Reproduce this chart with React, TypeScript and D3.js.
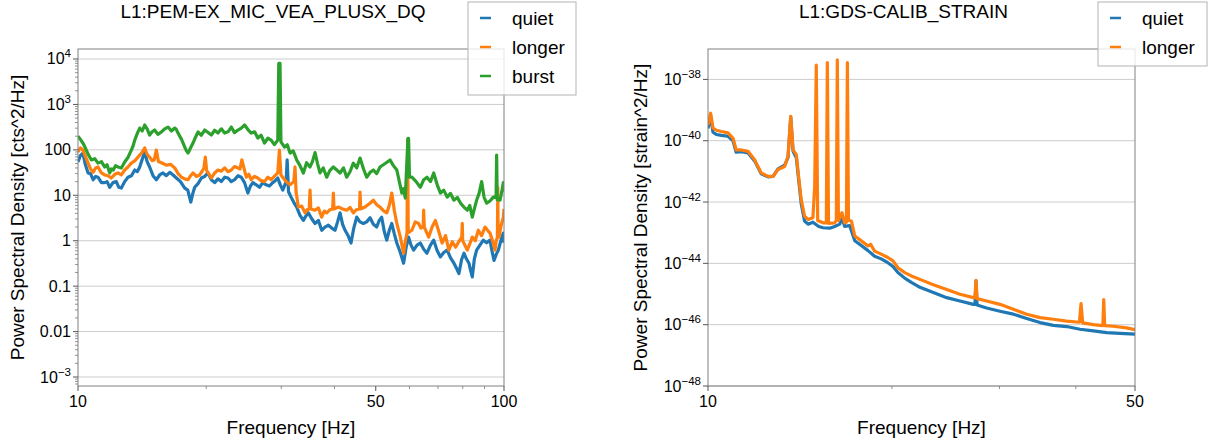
import React from 'react';
import * as d3 from 'd3';

type Pt = [number, number];

// L1:PEM-EX_MIC_VEA_PLUSX_DQ  [freq Hz, PSD cts^2/Hz]
const pemQuiet: Pt[] = [
  [10, 54], [10.27, 85], [10.56, 31], [10.85, 22], [11.14, 25], [11.55, 19], [11.87, 15], [12.3, 20],
  [12.64, 14.4], [13.1, 25], [13.59, 36], [13.96, 42], [14.34, 90], [14.73, 42], [15.27, 22], [15.83, 31],
  [16.42, 32], [17.02, 24], [17.81, 14.4], [18.4, 7.1], [18.79, 15], [19.48, 24], [20.19, 31], [20.93, 19],
  [21.7, 20], [22.49, 24], [23.31, 22], [24.17, 25], [25.05, 11.2], [25.74, 19], [26.67, 15], [27.64, 17],
  [28.65, 19], [29.44, 24], [30.25, 13], [30.8, 20], [30.97, 60], [31.2, 12], [31.66, 9], [32.61, 5.5],
  [33.81, 2.8], [34.73, 4.1], [36.01, 2.4], [37.33, 1.7], [38.7, 2.2], [40.12, 1.7], [41.22, 4.1],
  [42.35, 1.7], [43.74, 0.89], [45.11, 3.3], [46.76, 2.4], [48.48, 3.2], [50.25, 2.0], [51.63, 3.3],
  [53.06, 1.03], [54.52, 2.4], [56.03, 0.89], [58.11, 0.32], [59.7, 1.2], [61.34, 0.62], [63.61, 0.89],
  [65.95, 0.53], [68.39, 1.03], [70.93, 0.44], [73.56, 0.62], [76.29, 0.32], [78.38, 0.19], [80.54, 0.53],
  [82.75, 0.32], [84.25, 0.16], [86.25, 0.62], [89.43, 1.03], [92.71, 1.03], [94.74, 0.37], [96.99, 0.62],
  [99.65, 1.47], [100, 0.9],
];
const pemQuietFill: Pt[] = [
  [10.13, 75], [10.4, 48], [10.7, 30], [11.0, 26], [11.35, 19], [11.7, 20], [12.08, 19], [12.47, 15],
  [12.87, 20], [13.35, 27], [13.78, 33], [14.15, 62], [14.53, 55], [15.0, 27], [15.55, 28], [16.12, 27],
  [16.72, 28], [17.4, 20], [18.1, 13], [18.6, 11], [19.13, 18], [19.83, 26], [20.56, 22], [21.3, 23],
  [22.1, 25], [22.9, 20], [23.74, 27], [24.6, 19], [25.4, 16], [26.2, 17], [27.15, 19], [28.15, 16],
  [29.05, 21], [29.85, 17], [32.1, 7], [33.2, 3.6], [34.27, 3.5], [35.4, 3.0], [36.67, 2.8], [38.0, 2.0],
  [39.4, 1.9], [40.67, 2.6], [41.8, 2.3], [43.05, 1.3], [44.4, 1.9], [45.9, 2.6], [47.6, 2.6], [49.35, 2.3],
  [50.95, 2.8], [52.35, 1.6], [53.8, 1.7], [55.3, 1.4], [57.1, 0.55], [58.9, 0.7], [60.5, 0.8], [62.5, 0.8],
  [64.8, 0.65], [67.2, 0.8], [69.7, 0.6], [72.2, 0.55], [74.9, 0.42], [77.3, 0.25], [79.5, 0.38],
  [81.6, 0.4], [83.5, 0.22], [85.2, 0.4], [87.8, 0.8], [91.0, 0.9], [93.7, 0.6], [95.9, 0.5], [98.3, 1.0],
];

const pemLonger: Pt[] = [
  [10, 90], [10.27, 99], [10.56, 51], [10.85, 32], [11.14, 42], [11.55, 28], [11.97, 24], [12.41, 31],
  [12.87, 36], [13.34, 51], [13.83, 69], [14.34, 110], [14.73, 69], [15.1, 60], [15.27, 99], [15.45, 55],
  [15.55, 54], [16.12, 46], [16.87, 40], [17.49, 25], [18.13, 22], [18.62, 31], [19.3, 28], [19.75, 40],
  [19.9, 69], [20.05, 35], [20.56, 24], [21.31, 36], [22.09, 40], [22.9, 36], [23.74, 40], [24.25, 60],
  [24.83, 25], [25.51, 22], [26.43, 24], [27.4, 20], [28.4, 22], [29.44, 31], [29.7, 99], [29.95, 28],
  [30.54, 22], [31.46, 17], [32.1, 20], [32.32, 42], [32.5, 12], [32.91, 5.5], [34.12, 4.1], [34.9, 5],
  [35.05, 13], [35.2, 5], [36.01, 4.7], [37.33, 3.3], [38.35, 4.1], [39.6, 5], [39.76, 11.2], [39.9, 5],
  [40.85, 5.5], [42.73, 4.7], [44.3, 4.1], [45.8, 5], [45.93, 11.8], [46.1, 5], [47.18, 5.5], [49.36, 7.8],
  [51.17, 5.5], [53.06, 4.1], [54.52, 11.2], [56.03, 2.4], [58.11, 0.53], [59.2, 1.5], [59.4, 170],
  [59.6, 1.5], [60.79, 1.7], [63.04, 2.4], [64.6, 2], [64.77, 4.7], [65, 2], [66.55, 1.2], [69.01, 2.8],
  [71.57, 0.89], [74.23, 0.62], [76.98, 0.72], [79.6, 1.2], [79.81, 2.4], [80, 1.0], [82, 0.62],
  [84.25, 1.2], [87.04, 1.7], [90.24, 2.0], [92.71, 1.47], [95.25, 0.62], [96.5, 1.2], [96.7, 15],
  [96.9, 1.2], [97.3, 1.2], [99.65, 3.3], [100, 5],
];
const pemLongerFill: Pt[] = [
  [10.13, 110], [10.42, 70], [10.7, 38], [11.0, 40], [11.35, 31], [11.76, 27], [12.2, 29], [12.64, 28],
  [13.1, 42], [13.58, 57], [14.1, 85], [14.53, 80], [14.92, 58], [15.83, 50], [16.5, 48], [17.18, 30],
  [17.8, 23], [18.38, 27], [18.96, 26], [19.53, 33], [20.93, 31], [21.7, 34], [22.5, 33], [23.3, 43],
  [24.0, 38], [25.17, 29], [25.97, 26], [26.9, 21], [27.9, 25], [28.9, 26], [31.0, 19], [33.5, 5.8],
  [34.5, 4.8], [36.66, 5.3], [37.85, 4.5], [39.0, 4.8], [41.8, 5.0], [43.5, 5.4], [45.0, 4.8], [48.3, 6.5],
  [50.25, 6.2], [52.1, 4.6], [53.8, 6], [55.3, 4.5], [57.1, 1.2], [58.7, 1.0], [61.9, 2.6], [63.8, 1.9],
  [67.8, 2.0], [70.3, 1.6], [72.9, 1.3], [75.6, 0.95], [78.3, 0.95], [83.1, 0.85], [85.6, 1.0], [88.6, 1.3],
  [91.5, 1.7], [94.0, 1.0], [95.9, 1.0], [98.5, 2.2],
];

const pemBurst: Pt[] = [
  [10, 200], [10.27, 141], [10.46, 99], [10.75, 60], [11.14, 51], [11.55, 42], [11.87, 31], [12.1, 36],
  [12.41, 42], [12.87, 54], [13.34, 99], [13.59, 164], [13.96, 302], [14.34, 352], [14.73, 212],
  [15.13, 273], [15.69, 247], [16.27, 318], [16.87, 302], [17.17, 234], [17.81, 115], [18.13, 85],
  [18.62, 141], [19.13, 247], [19.83, 273], [20.56, 212], [21.31, 234], [22.09, 234], [22.9, 318],
  [23.74, 273], [24.61, 352], [25.51, 234], [26.43, 182], [27.4, 141], [28.4, 164], [29.44, 164],
  [29.6, 8000], [29.8, 8000], [29.95, 150], [30.54, 115], [31.46, 85], [32.61, 60], [33.81, 31],
  [35.05, 42], [36.01, 87], [36.99, 31], [38.35, 25], [39.76, 42], [41.22, 31], [42.73, 25], [44.3, 51],
  [45.93, 66], [47.61, 25], [49.36, 36], [51.17, 42], [54.03, 60], [56.03, 36], [57.58, 11.2],
  [58.64, 8.7], [59.5, 180], [59.7, 180], [60, 25], [60.79, 25], [63.61, 15], [65.95, 25], [68.39, 31],
  [70.93, 11.2], [73.56, 9.1], [76.29, 7.8], [79.09, 6.7], [82, 4.7], [84.25, 3.3], [86.25, 7.8],
  [88.62, 20], [91.05, 6.7], [94.4, 9.1], [95.8, 9], [96.1, 77], [96.4, 8], [97.87, 7.8], [99.65, 19],
  [100, 12],
];
const pemBurstFill: Pt[] = [
  [10.13, 170], [10.36, 120], [10.6, 75], [10.95, 64], [11.35, 55], [11.7, 47], [11.98, 38], [12.25, 45],
  [12.64, 40], [13.1, 68], [13.46, 120], [13.78, 230], [14.15, 260], [14.53, 290], [14.93, 250],
  [15.4, 220], [15.98, 290], [16.57, 260], [17.02, 280], [17.5, 170], [17.97, 95], [18.37, 110],
  [18.87, 190], [19.48, 210], [20.2, 240], [20.93, 270], [21.7, 290], [22.5, 250], [23.3, 240],
  [24.17, 300], [25.05, 280], [25.97, 250], [26.9, 210], [27.9, 180], [28.9, 130], [31.0, 130],
  [32.0, 95], [33.2, 45], [34.4, 52], [35.5, 55], [36.5, 50], [37.65, 40], [39.0, 35], [40.5, 36],
  [42.0, 40], [43.5, 33], [45.1, 40], [46.8, 38], [48.5, 32], [50.25, 30], [52.6, 50], [55.0, 45],
  [56.8, 20], [58.1, 14], [62.2, 20], [64.8, 22], [67.2, 20], [69.7, 17], [72.2, 13], [74.9, 11],
  [77.7, 9], [80.5, 5.5], [83.1, 6], [85.2, 5], [87.4, 11], [89.8, 9], [92.7, 7.5], [98.8, 12],
];

// L1:GDS-CALIB_STRAIN  [freq Hz, PSD strain^2/Hz]
const strainQuiet: Pt[] = [
  [10, 2.5e-40], [10.1, 6.3e-40], [10.19, 1.9e-40], [10.32, 1.6e-40], [10.52, 1.5e-40], [10.78, 1.4e-40],
  [10.99, 1.0e-40], [11.12, 4.2e-41], [11.34, 4.4e-41], [11.63, 4.0e-41], [11.92, 2.2e-41],
  [12.22, 8.3e-42], [12.54, 6.6e-42], [12.78, 6.9e-42], [13.02, 1.2e-41], [13.35, 1.6e-41],
  [13.52, 2.8e-41], [13.66, 5.9e-40], [13.78, 4.5e-41], [13.95, 2.8e-41], [14.07, 5.6e-42],
  [14.21, 8.9e-43], [14.39, 2.4e-43], [14.58, 1.9e-43], [14.85, 2.2e-43], [15.18, 1.6e-43],
  [15.43, 1.45e-43], [15.82, 1.4e-43], [16.12, 1.6e-43], [16.43, 1.9e-43], [16.57, 3.0e-43],
  [16.74, 1.6e-43], [17.06, 1.7e-43], [17.39, 5.5e-44], [17.82, 3.8e-44], [18.28, 2.6e-44],
  [18.74, 1.7e-44], [19.21, 1.4e-44], [19.7, 1.05e-44], [20.08, 7.9e-45], [20.46, 5.0e-45],
  [20.99, 3.3e-45], [21.52, 2.4e-45], [22.23, 1.66e-45], [23.38, 1.12e-45], [24.59, 7.6e-46],
  [25.85, 5.9e-46], [27.19, 4.6e-46], [27.35, 4.6e-46], [27.46, 2.7e-45], [27.57, 4.4e-46],
  [28.58, 3.5e-46], [30.06, 2.75e-46], [31.61, 2.2e-46], [33.24, 1.6e-46], [34.95, 1.17e-46],
  [36.75, 9.5e-47], [38.65, 8.7e-47], [40.64, 7.1e-47], [42.73, 6.3e-47], [44.94, 5.5e-47],
  [47.25, 5.2e-47], [50, 4.9e-47],
];

const strainLonger: Pt[] = [
  [10, 3.3e-40], [10.1, 7.9e-40], [10.19, 2.6e-40], [10.32, 2.2e-40], [10.52, 2.0e-40], [10.78, 1.8e-40],
  [10.99, 1.2e-40], [11.12, 5.0e-41], [11.34, 5.0e-41], [11.63, 4.5e-41], [11.92, 2.4e-41],
  [12.22, 8.9e-42], [12.54, 6.9e-42], [12.78, 6.9e-42], [13.02, 1.15e-41], [13.35, 1.45e-41],
  [13.52, 3.1e-41], [13.66, 6.2e-40], [13.78, 5.0e-41], [13.95, 3.5e-41], [14.07, 6.9e-42],
  [14.21, 1.2e-42], [14.39, 3.5e-43], [14.58, 2.7e-43], [14.85, 3.1e-43], [14.95, 3.2e-42],
  [15.04, 2.9e-38], [15.12, 2.5e-43], [15.43, 2.1e-43], [15.62, 2.1e-43], [15.68, 3.5e-38],
  [15.75, 2.0e-43], [16.12, 2.1e-43], [16.22, 2.5e-43], [16.28, 4.3e-38], [16.35, 2.5e-43],
  [16.57, 4.5e-43], [16.74, 2.1e-43], [16.85, 2.2e-43], [16.91, 3.5e-38], [16.98, 2.5e-43],
  [17.17, 2.4e-43], [17.39, 7.8e-44], [17.82, 5.4e-44], [18.28, 3.7e-44], [18.46, 4.2e-44],
  [18.74, 2.5e-44], [19.21, 2.0e-44], [19.7, 1.55e-44], [20.08, 1.2e-44], [20.46, 7.2e-45],
  [20.99, 5.0e-45], [21.52, 3.9e-45], [22.23, 3.0e-45], [23.38, 2.0e-45], [24.59, 1.4e-45],
  [25.85, 9.8e-46], [27.19, 7.6e-46], [27.35, 7.6e-46], [27.46, 2.8e-45], [27.57, 7.1e-46],
  [28.58, 5.9e-46], [30.06, 4.6e-46], [31.61, 3.2e-46], [33.24, 2.2e-46], [34.95, 1.7e-46],
  [36.75, 1.5e-46], [38.65, 1.3e-46], [40.55, 1.2e-46], [40.8, 4.9e-46], [41.05, 1.15e-46],
  [42.73, 1.0e-46], [44.3, 9.3e-47], [44.44, 6.6e-46], [44.6, 9.3e-47], [46.08, 8.9e-47],
  [48.46, 7.9e-47], [50, 6.9e-47],
];

const pemYTicks = [1e4, 1e3, 100, 10, 1, 0.1, 0.01, 1e-3];
const pemYLabels = ['10^4', '10^3', '100', '10', '1', '0.1', '0.01', '10^\u22123'];
const pemXTicks = [10, 50, 100];
const pemXLabels = ['10', '50', '100'];
const pemXMinor = [20, 30, 40, 60, 70, 80, 90];

const strainYTicks = [1e-38, 1e-40, 1e-42, 1e-44, 1e-46, 1e-48];
const strainYLabels = ['10^\u221238', '10^\u221240', '10^\u221242', '10^\u221244', '10^\u221246', '10^\u221248'];
const strainXTicks = [10, 50];
const strainXLabels = ['10', '50'];
const strainXMinor = [20, 30, 40];

const colors = { quiet: '#1f77b4', longer: '#ff7f0e', burst: '#2ca02c' };
const FONT = '"Liberation Sans", Arial, Helvetica, sans-serif';

const merged = (a: Pt[], b: Pt[]) => [...a, ...b].sort((p, q) => p[0] - q[0]);

function TickLabel({ x, y, label, anchor }) {
  const [base, exp] = label.split('^');
  return (
    <text x={x} y={y} textAnchor={anchor} fontSize={16} fill="#000">
      {base}
      {exp && (
        <tspan dy={-7} fontSize={11.5}>
          {exp}
        </tspan>
      )}
    </text>
  );
}

function Panel({ id, x0, x1, y0, y1, xDomain, yDomain, series, yTicks, yLabels, yMinor, xTicks, xLabels, xMinor, title, yTitle, yTitleX, legend, width }) {
  const xs = d3.scaleLog().domain(xDomain).range([x0, x1]);
  const ys = d3.scaleLog().domain(yDomain).range([y1, y0]);
  const line = d3.line<Pt>().x(d => xs(d[0])).y(d => ys(d[1]));
  const minorY = yMinor
    ? d3.range(-4, 5).flatMap(e => d3.range(2, 10).map(k => k * Math.pow(10, e))).filter(v => v > yDomain[0] && v < yDomain[1])
    : [];
  const cx = (x0 + x1) / 2;
  const cy = (y0 + y1) / 2;

  return (
    <g>
      <defs>
        <clipPath id={id}>
          <rect x={x0} y={y0} width={x1 - x0} height={y1 - y0} />
        </clipPath>
      </defs>
      {yTicks.map(v => (
        <line key={'g' + v} x1={x0} x2={x1} y1={ys(v)} y2={ys(v)} stroke="#cccccc" strokeWidth={1} />
      ))}
      <g clipPath={`url(#${id})`}>
        {series.map(s => (
          <path key={s.name} d={line(s.data)} fill="none" stroke={s.color} strokeWidth={width} strokeLinejoin="round" />
        ))}
      </g>
      <rect x={x0} y={y0} width={x1 - x0} height={y1 - y0} fill="none" stroke="#808080" strokeWidth={1} />
      {yTicks.map(v => (
        <line key={'t' + v} x1={x0 - 5} x2={x0} y1={ys(v)} y2={ys(v)} stroke="#555" strokeWidth={1} />
      ))}
      {minorY.map(v => (
        <line key={'m' + v} x1={x0 - 3} x2={x0} y1={ys(v)} y2={ys(v)} stroke="#777" strokeWidth={0.8} />
      ))}
      {yTicks.map((v, i) => (
        <TickLabel key={'l' + v} x={x0 - 7} y={ys(v) + 5.5} label={yLabels[i]} anchor="end" />
      ))}
      {xTicks.map(v => (
        <line key={'xt' + v} x1={xs(v)} x2={xs(v)} y1={y1} y2={y1 + 5} stroke="#555" strokeWidth={1} />
      ))}
      {xMinor.map(v => (
        <line key={'xm' + v} x1={xs(v)} x2={xs(v)} y1={y1} y2={y1 + 3} stroke="#777" strokeWidth={0.8} />
      ))}
      {xTicks.map((v, i) => (
        <TickLabel key={'xl' + v} x={xs(v)} y={y1 + 21} label={xLabels[i]} anchor="middle" />
      ))}
      <text x={cx - 18} y={18} textAnchor="middle" fontSize={19}>{title}</text>
      <text x={cx} y={434} textAnchor="middle" fontSize={19}>Frequency [Hz]</text>
      <text transform={`translate(${yTitleX},${cy}) rotate(-90)`} textAnchor="middle" fontSize={19}>{yTitle}</text>
      <rect x={legend.x} y={2} width={legend.w} height={legend.h} fill="#fff" fillOpacity={0.8} stroke="#b3b3b3" strokeWidth={1} />
      {series.map((s, i) => (
        <g key={'lg' + s.name}>
          <line x1={legend.x + 12} x2={legend.x + 23} y1={18 + i * 29} y2={18 + i * 29} stroke={s.color} strokeWidth={2.5} />
          <text x={legend.x + 44} y={25 + i * 29} fontSize={19}>{s.name}</text>
        </g>
      ))}
    </g>
  );
}

export default function App() {
  return (
    <svg width={1212} height={444} style={{ position: 'absolute', left: 0, top: 0, background: '#fff' }} fontFamily={FONT}>
      <rect width={1212} height={444} fill="#fff" />
      <Panel
        id="clipPem"
        x0={78} x1={504} y0={49} y1={386}
        xDomain={[10, 100]}
        yDomain={[6.34e-4, 1.66e4]}
        series={[
          { name: 'quiet', color: colors.quiet, data: merged(pemQuiet, pemQuietFill) },
          { name: 'longer', color: colors.longer, data: merged(pemLonger, pemLongerFill) },
          { name: 'burst', color: colors.burst, data: merged(pemBurst, pemBurstFill) },
        ]}
        yTicks={pemYTicks} yLabels={pemYLabels} yMinor={true}
        xTicks={pemXTicks} xLabels={pemXLabels} xMinor={pemXMinor}
        title="L1:PEM-EX_MIC_VEA_PLUSX_DQ"
        yTitle="Power Spectral Density [cts^2/Hz]"
        yTitleX={24}
        legend={{ x: 468, w: 108, h: 93 }}
        width={3.2}
      />
      <Panel
        id="clipStrain"
        x0={708} x1={1135} y0={49} y1={386}
        xDomain={[10, 50]}
        yDomain={[1e-48, 9.8e-38]}
        series={[
          { name: 'quiet', color: colors.quiet, data: strainQuiet },
          { name: 'longer', color: colors.longer, data: strainLonger },
        ]}
        yTicks={strainYTicks} yLabels={strainYLabels} yMinor={false}
        xTicks={strainXTicks} xLabels={strainXLabels} xMinor={strainXMinor}
        title="L1:GDS-CALIB_STRAIN"
        yTitle="Power Spectral Density [strain^2/Hz]"
        yTitleX={647}
        legend={{ x: 1098, w: 109, h: 64 }}
        width={3.2}
      />
    </svg>
  );
}
